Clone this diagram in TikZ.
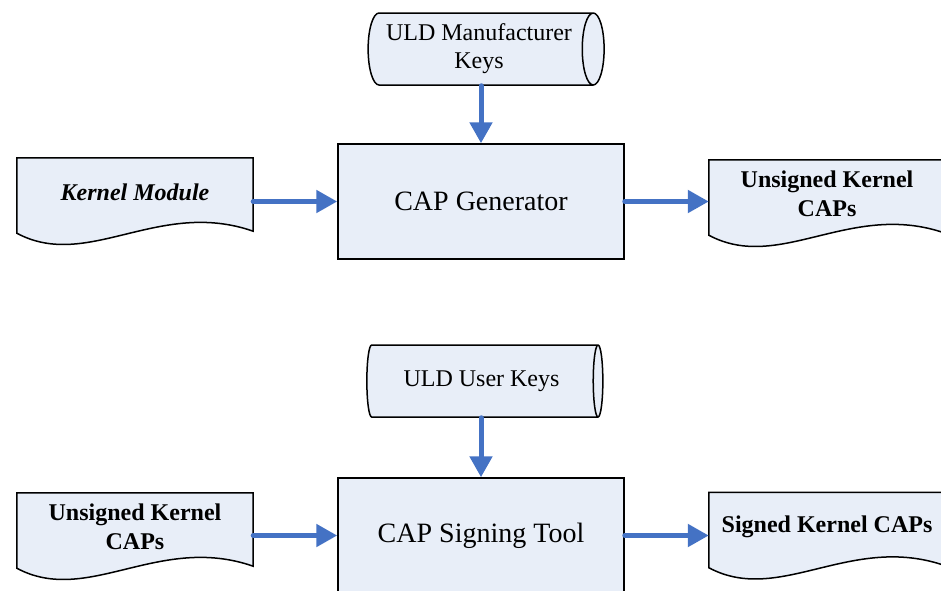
\documentclass[tikz,border=0pt]{standalone}
\usepackage{fontspec}
\setmainfont{Liberation Serif}
\usepackage{tikz}
\usetikzlibrary{shapes.geometric, arrows.meta, positioning, calc, backgrounds}
\definecolor{boxfill}{RGB}{232,238,248}
\definecolor{flowblue}{RGB}{68,114,196}
\tikzset{
    process/.style={rectangle, minimum width=286pt, minimum height=115pt, text centered, draw, line width=1.5pt, fill=boxfill, font=\fontsize{28}{33}\selectfont},
    keystore/.style={cylinder, shape border rotate=0, shape aspect=0.42, minimum width=72pt, minimum height=236pt, inner sep=1pt, text centered, align=center, draw, line width=1.5pt, fill=boxfill, font=\fontsize{24}{28}\selectfont},
    docbox/.style={rectangle, minimum width=236pt, minimum height=68pt, text centered, align=center, font=\bfseries\fontsize{24}{29}\selectfont},
    docline/.style={draw, line width=1.5pt, fill=boxfill},
    flow/.style={-{Triangle[length=21pt, width=22pt]}, line width=5pt, color=flowblue, line cap=round}
}
% outline of a document node, wavy bottom edge
\newcommand{\docoutline}[1]{%
    \draw[docline] (#1.north west) -- (#1.north east) -- ([yshift=-5pt]#1.south east)
        .. controls ([yshift=28pt]$(#1.south east)!0.4!(#1.south west)$) and ([yshift=-45pt]$(#1.south east)!0.7!(#1.south west)$) .. ([yshift=-7pt]#1.south west) -- cycle;
}
\begin{document}
\begin{tikzpicture}[x=1pt, y=-1pt]
    \useasboundingbox (0,0) rectangle (941,590);
    \clip (0,0) rectangle (941,590);

    % CAP generation
    \node[keystore] (mkeys) at (479,49) {ULD Manufacturer\\Keys};
    \node[process] (gen) at (481,201.5) {CAP Generator};
    \node[docbox, font=\bfseries\itshape\fontsize{24}{29}\selectfont] (kmod) at (135,192) {Kernel Module};
    \node[docbox] (ucaps) at (827,194) {Unsigned Kernel\\CAPs};

    % CAP signing
    \node[keystore] (ukeys) at (481.5,381) {ULD User Keys};
    \node[process] (sign) at (481,535.5) {CAP Signing Tool};
    \node[docbox] (ucaps2) at (135,527) {Unsigned Kernel\\CAPs};
    \node[docbox] (scaps) at (827,526.5) {Signed Kernel CAPs};

    % document outlines
    \begin{scope}[on background layer]
        \clip (0,0) rectangle (941,590);
        \docoutline{kmod}
        \docoutline{ucaps}
        \docoutline{ucaps2}
        \docoutline{scaps}
    \end{scope}

    % flows
    \draw[flow] (gen.north |- mkeys.south) -- (gen.north);
    \draw[flow] (kmod.east |- gen.west) -- (gen.west);
    \draw[flow] (gen.east) -- (ucaps.west |- gen.east);
    \draw[flow] (sign.north |- ukeys.south) -- (sign.north);
    \draw[flow] (ucaps2.east |- sign.west) -- (sign.west);
    \draw[flow] (sign.east) -- (scaps.west |- sign.east);
\end{tikzpicture}
\end{document}
